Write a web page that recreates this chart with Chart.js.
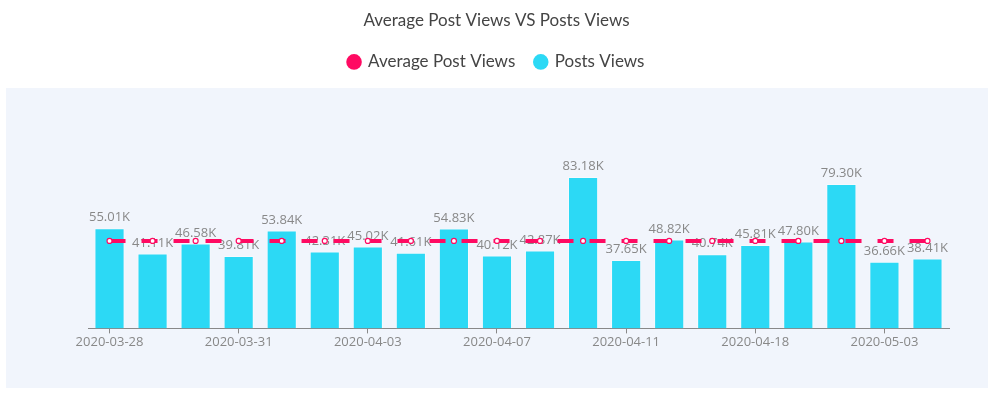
<!DOCTYPE html>
<html>
<head>
<meta charset="utf-8">
<script src="https://cdn.jsdelivr.net/npm/chart.js@4/dist/chart.umd.min.js"></script>
<style>
  html, body { margin: 0; padding: 0; background: #fff; }
  #wrap { width: 993px; height: 394px; }
</style>
</head>
<body>
<div id="wrap"><canvas id="viewsChart"></canvas></div>
<script>
// datos del gráfico
const dates = [
  '2020-03-28', '2020-03-29', '2020-03-30', '2020-03-31', '2020-04-01',
  '2020-04-02', '2020-04-03', '2020-04-04', '2020-04-05', '2020-04-07',
  '2020-04-08', '2020-04-09', '2020-04-11', '2020-04-12', '2020-04-15',
  '2020-04-18', '2020-04-20', '2020-04-25', '2020-05-03', '2020-05-05'
];
const postViews = [
  55010, 41110, 46580, 39810, 53840, 42310, 45020, 41610, 54830, 40120,
  42870, 83180, 37650, 48820, 40740, 45810, 47800, 79300, 36660, 38410
];
const avgViews = [
  48074, 48074, 48074, 48074, 48074, 48074, 48074, 48074, 48074, 48074,
  48074, 48074, 48074, 48074, 48074, 48074, 48074, 48074, 48074, 48074
];

const pink = '#ff0a62';
const cyan = '#2cd9f5';

function fmtK(v) {
  return (v / 1000).toFixed(2) + 'K';
}

// fondo del área
const bgPlugin = {
  id: 'bgPanel',
  beforeDraw(chart) {
    const ctx = chart.ctx;
    ctx.save();
    ctx.fillStyle = '#f1f5fc';
    ctx.fillRect(6, 88, chart.width - 11, 300);
    ctx.restore();
  }
};

// espacio extra bajo la leyenda
const legendSpace = {
  id: 'legendSpace',
  beforeInit(chart) {
    const fit = chart.legend.fit;
    chart.legend.fit = function () {
      fit.call(this);
      this.height += 66;
    };
  }
};

// etiquetas sobre las barras
const barLabels = {
  id: 'barLabels',
  afterDatasetDraw(chart, args) {
    if (args.index !== 1) return;
    const ctx = chart.ctx;
    ctx.save();
    ctx.font = '13px "Open Sans", sans-serif';
    ctx.fillStyle = '#888';
    ctx.textAlign = 'center';
    ctx.textBaseline = 'bottom';
    args.meta.data.forEach((bar, i) => {
      ctx.fillText(fmtK(postViews[i]), bar.x, bar.y - 4);
    });
    ctx.restore();
  }
};

const ctx = document.getElementById('viewsChart').getContext('2d');
new Chart(ctx, {
  data: {
    labels: dates,
    datasets: [
      {
        type: 'line',
        label: 'Average Post Views',
        data: avgViews,
        borderColor: pink,
        backgroundColor: pink,
        borderWidth: 4,
        borderDash: [16, 16],
        pointRadius: 2.5,
        pointBackgroundColor: '#fff',
        pointBorderColor: pink,
        pointBorderWidth: 1.2,
        fill: false
      },
      {
        type: 'bar',
        label: 'Posts Views',
        data: postViews,
        backgroundColor: cyan,
        borderColor: 'rgba(255,255,255,0.4)',
        borderWidth: 1,
        categoryPercentage: 1,
        barPercentage: 0.7
      }
    ]
  },
  options: {
    responsive: true,
    maintainAspectRatio: false,
    animation: false,
    layout: { padding: { bottom: 43 } },
    plugins: {
      title: {
        display: true,
        text: 'Average Post Views VS Posts Views',
        color: '#444',
        font: { family: 'Lato', size: 17, weight: 'normal' },
        padding: { top: 10, bottom: 3 }
      },
      legend: {
        labels: {
          usePointStyle: true,
          boxWidth: 11,
          boxHeight: 11,
          color: '#444',
          font: { family: 'Lato', size: 17 },
          padding: 20,
          generateLabels(chart) {
            const items = Chart.defaults.plugins.legend.labels.generateLabels(chart);
            items.forEach(it => {
              it.fillStyle = chart.data.datasets[it.datasetIndex].backgroundColor;
              it.strokeStyle = it.fillStyle;
              it.lineWidth = 0;
            });
            return items;
          }
        }
      },
      tooltip: { enabled: false }
    },
    scales: {
      x: {
        offset: true,
        border: { color: '#888', width: 1 },
        grid: {
          offset: false,
          drawOnChartArea: false,
          tickLength: 5,
          color: c => (c.index % 3 === 0 ? '#888' : 'rgba(0,0,0,0)')
        },
        ticks: {
          autoSkip: false,
          maxRotation: 0,
          color: '#888',
          padding: 1,
          font: { family: '"Open Sans"', size: 13 },
          callback(val, i) {
            return i % 3 === 0 ? dates[i] : '';
          }
        }
      },
      y: {
        min: 0,
        max: 100000,
        border: { display: false },
        grid: { display: false },
        ticks: { display: false },
        afterFit(scale) { scale.width = 88; }
      },
      yRight: {
        position: 'right',
        border: { display: false },
        grid: { display: false },
        ticks: { display: false },
        afterFit(scale) { scale.width = 44; }
      }
    }
  },
  plugins: [bgPlugin, legendSpace, barLabels]
});
</script>
</body>
</html>
